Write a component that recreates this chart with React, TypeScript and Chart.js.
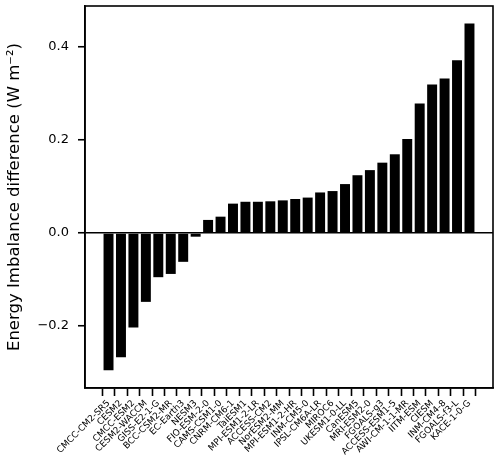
import { useEffect, useRef } from "react";
import { Chart, registerables } from "chart.js";

Chart.register(...registerables);

const models = [
  "CMCC-CM2-SR5", "CESM2", "CMCC-ESM2", "CESM2-WACCM", "GISS-E2-1-G", "BCC-CSM2-MR",
  "EC-Earth3", "NESM3", "FIO-ESM-2-0", "CAMS-CSM1-0", "CNRM-CM6-1", "TaiESM1",
  "MPI-ESM1-2-LR", "ACCESS-CM2", "NorESM2-MM", "MPI-ESM1-2-HR", "INM-CM5-0", "IPSL-CM6A-LR",
  "MIROC6", "UKESM1-0-LL", "CanESM5", "MRI-ESM2-0", "FGOALS-g3", "ACCESS-ESM1-5",
  "AWI-CM-1-1-MR", "IITM-ESM", "CIESM", "INM-CM4-8", "FGOALS-f3-L", "KACE-1-0-G",
];

const imbalance = [
  -0.295, -0.267, -0.203, -0.148, -0.095, -0.088,
  -0.062, -0.008, 0.028, 0.035, 0.063, 0.067,
  0.067, 0.068, 0.070, 0.073, 0.076, 0.087,
  0.090, 0.105, 0.124, 0.135, 0.151, 0.169,
  0.202, 0.278, 0.319, 0.332, 0.371, 0.450,
];

const yTickValues = [-0.2, 0.0, 0.2, 0.4];

export default function App() {
  const ref = useRef<HTMLCanvasElement | null>(null);

  useEffect(() => {
    if (!ref.current) return;
    const frame = {
      id: "frame",
      afterDraw(chart: any) {
        const { ctx, chartArea: a } = chart;
        ctx.save();
        ctx.strokeStyle = "#000";
        ctx.lineWidth = 1.6;
        ctx.strokeRect(a.left, a.top, a.right - a.left, a.bottom - a.top);
        ctx.restore();
      },
    };
    const chart = new Chart(ref.current, {
      type: "bar",
      data: {
        datasets: [
          {
            data: imbalance.map((v, i) => ({ x: i, y: v })),
            backgroundColor: "#000",
            borderWidth: 0,
            barPercentage: 0.8,
            categoryPercentage: 1,
          },
        ],
      },
      options: {
        animation: false,
        responsive: false,
        devicePixelRatio: 1,
        layout: { padding: { top: 6, right: 7, left: 0, bottom: 0 } },
        plugins: { legend: { display: false }, tooltip: { enabled: false } },
        scales: {
          x: {
            type: "linear",
            min: -1.89,
            max: 30.89,
            offset: false,
            afterBuildTicks: (s: any) => {
              s.ticks = models.map((_, i) => ({ value: i }));
            },
            afterFit: (s: any) => {
              s.height = 81;
              s.paddingLeft = 0;
              s.paddingRight = 0;
              s.paddingTop = 0;
              s.paddingBottom = 0;
            },
            ticks: {
              autoSkip: false,
              maxRotation: 45,
              minRotation: 45,
              padding: 2,
              color: "#000",
              font: { family: "DejaVu Sans", size: 9 },
              callback: (_v: any, i: number) => models[i],
            },
            grid: {
              display: true,
              drawOnChartArea: false,
              tickLength: 8,
              tickWidth: 1.6,
              tickColor: "#000",
            },
            border: { color: "#000", width: 1.6 },
          },
          y: {
            type: "linear",
            min: -0.333,
            max: 0.4875,
            afterBuildTicks: (s: any) => {
              s.ticks = yTickValues.map((v) => ({ value: v }));
            },
            afterFit: (s: any) => {
              s.width = 85;
              s.paddingLeft = 0;
              s.paddingRight = 0;
              s.paddingTop = 0;
              s.paddingBottom = 0;
            },
            ticks: {
              padding: 9,
              color: "#000",
              font: { family: "DejaVu Sans", size: 13 },
              callback: (v: any) => Number(v).toFixed(1).replace("-", "\u2212"),
            },
            grid: {
              display: true,
              drawOnChartArea: true,
              color: (c: any) => (c.tick && c.tick.value === 0 ? "#000" : "rgba(0,0,0,0)"),
              lineWidth: 1.5,
              tickLength: 7,
              tickWidth: 1.6,
              tickColor: "#000",
            },
            border: { color: "#000", width: 1.6 },
            title: {
              display: true,
              text: "Energy Imbalance difference (W m\u207B\u00B2)",
              color: "#000",
              font: { family: "DejaVu Sans", size: 16.5 },
              padding: { top: 5, bottom: 0 },
            },
          },
        },
      },
      plugins: [frame],
    } as any);
    return () => chart.destroy();
  }, []);

  return (
    <div style={{ position: "fixed", left: 0, top: 0, width: 500, height: 469, background: "#fff" }}>
      <canvas ref={ref} width={500} height={469} style={{ display: "block" }} />
    </div>
  );
}
